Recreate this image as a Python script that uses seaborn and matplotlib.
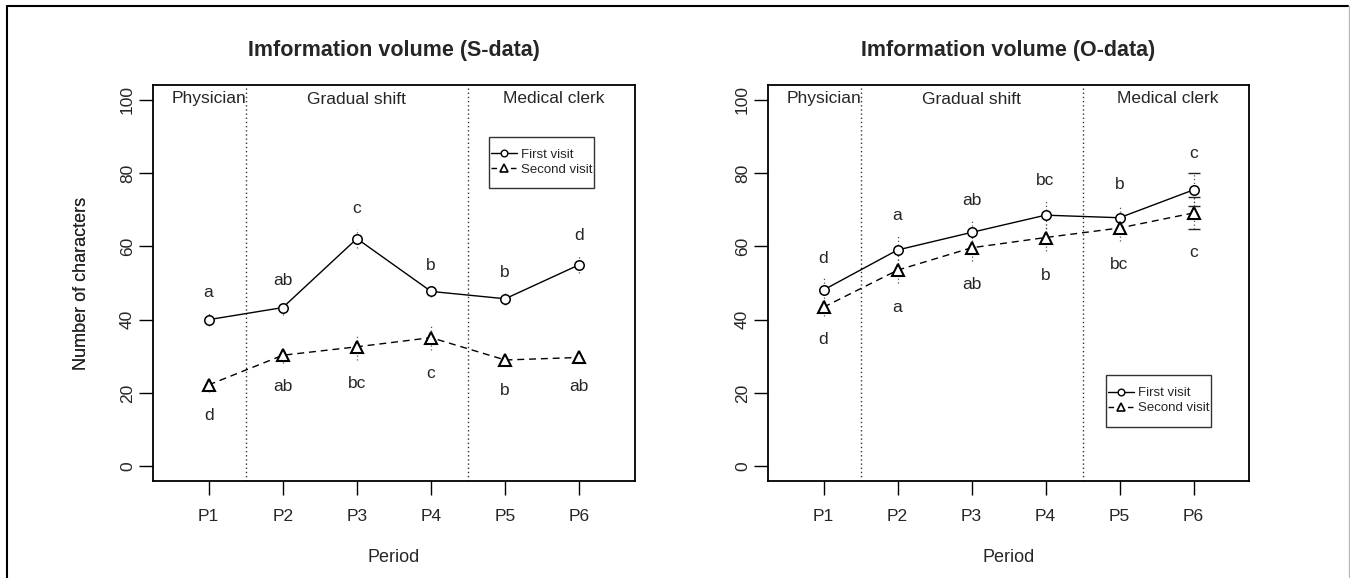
import numpy as np
import pandas as pd
import matplotlib
matplotlib.use("Agg")
import matplotlib.pyplot as plt
from matplotlib.lines import Line2D
from matplotlib.patches import Rectangle
import seaborn as sns

sns.set_style("white")
plt.rcParams['font.family'] = ['Liberation Sans', 'DejaVu Sans']

# ---- data ----
periods = ["P1", "P2", "P3", "P4", "P5", "P6"]
visits = ["First visit", "Second visit"]
regions = ["Physician", "Gradual shift", "Medical clerk"]

s_first = [40.0, 43.3, 62.1, 47.7, 45.7, 55.0]
s_second = [22.2, 30.3, 32.6, 35.1, 29.0, 29.7]
s_first_se = [1.8, 2.0, 2.6, 1.6, 1.7, 2.4]
s_second_se = [1.8, 2.1, 3.5, 3.3, 1.7, 1.4]
s_first_letters = ["a", "ab", "c", "b", "b", "d"]
s_second_letters = ["d", "ab", "bc", "c", "b", "ab"]

o_first = [48.1, 59.0, 63.8, 68.5, 67.8, 75.4]
o_second = [43.4, 53.5, 59.6, 62.4, 65.0, 69.1]
o_first_se = [3.2, 3.8, 3.3, 3.9, 3.5, 4.5]
o_second_se = [2.3, 3.6, 3.5, 3.8, 3.5, 4.3]
o_first_letters = ["d", "a", "ab", "bc", "b", "c"]
o_second_letters = ["d", "a", "ab", "b", "bc", "c"]

titles = ["Imformation volume (S-data)", "Imformation volume (O-data)"]
yticks = [0, 20, 40, 60, 80, 100]

W, H = 1350, 578
fig = plt.figure(figsize=(W / 100, H / 100), dpi=100)

# figure border (left, top, right)
fig.add_artist(Line2D([7 / W, 7 / W], [0, 1 - 6 / H], color="black", lw=1.5, transform=fig.transFigure))
fig.add_artist(Line2D([7 / W, 1348 / W], [1 - 6 / H, 1 - 6 / H], color="black", lw=1.5, transform=fig.transFigure))
fig.add_artist(Line2D([1348.5 / W, 1348.5 / W], [0, 1 - 6 / H], color="#bbbbbb", lw=1.0, transform=fig.transFigure))

rects = [
    [153 / W, (H - 481) / H, 482 / W, 396 / H],
    [768 / W, (H - 481) / H, 481 / W, 396 / H],
]
# legend boxes in axes fraction: (x0, y0, x1, y1)
legend_boxes = [(0.697, 0.740, 0.915, 0.869), (0.702, 0.137, 0.922, 0.268)]

panels = [
    (s_first, s_second, s_first_se, s_second_se, s_first_letters, s_second_letters),
    (o_first, o_second, o_first_se, o_second_se, o_first_letters, o_second_letters),
]

pad_above = 5.5
pad_below = 6.5
FS = 12.5

for i, (f, s, fse, sse, fl, sl) in enumerate(panels):
    ax = fig.add_axes(rects[i])
    x = np.arange(1, len(periods) + 1)
    df = pd.DataFrame({
        "x": np.concatenate([x, x]),
        "value": np.concatenate([f, s]),
        "se": np.concatenate([fse, sse]),
        "visit": [visits[0]] * len(x) + [visits[1]] * len(x),
    })
    d1 = df[df.visit == visits[0]]
    d2 = df[df.visit == visits[1]]

    # error bars (dotted), caps only for large SE
    for d in (d1, d2):
        eb = ax.errorbar(d.x, d.value, yerr=d.se, fmt="none", ecolor="#555555",
                         elinewidth=0.9, capsize=0, zorder=1)
        for c in eb[2]:
            c.set_linestyle((0, (1, 2)))
        big = d[d.se > 4.0]
        if len(big):
            ax.errorbar(big.x, big.value, yerr=big.se, fmt="none", ecolor="#222222",
                        elinewidth=0.0, capsize=4, capthick=1.0, zorder=1)

    sns.lineplot(data=d1, x="x", y="value", ax=ax, color="black", lw=1.0,
                 marker="o", markersize=6.8, markerfacecolor="white",
                 markeredgecolor="black", markeredgewidth=1.1, zorder=3,
                 errorbar=None, legend=False)
    sns.lineplot(data=d2, x="x", y="value", ax=ax, color="black", lw=1.0,
                 linestyle=(0, (5, 3.5)), marker="^", markersize=8.8,
                 markerfacecolor="white", markeredgecolor="black",
                 markeredgewidth=1.5, zorder=3, errorbar=None, legend=False)

    # significance letters
    for xi, v, e, t in zip(x, f, fse, fl):
        ax.text(xi, v + e + pad_above, t, ha="center", va="center", fontsize=FS)
    for xi, v, e, t in zip(x, s, sse, sl):
        ax.text(xi, v - e - pad_below, t, ha="center", va="center", fontsize=FS)

    # region separators and labels
    for xv in (1.5, 4.5):
        ax.axvline(xv, color="#333333", lw=1.0, linestyle=(0, (1, 2)), zorder=0)
    ax.text(1.0, 100.4, regions[0], ha="center", va="center", fontsize=FS)
    ax.text(3.0, 100.0, regions[1], ha="center", va="center", fontsize=FS)
    ax.text(5.65, 100.4, regions[2], ha="center", va="center", fontsize=FS)

    ax.set_xlim(0.25, 6.75)
    ax.set_ylim(-4, 104)
    ax.set_xticks(x)
    ax.set_xticklabels(periods)
    ax.set_yticks(yticks)
    ax.set_yticklabels([str(t) for t in yticks], rotation=90, va="center")
    ax.tick_params(axis="both", direction="out", length=10, width=1.0,
                   color="black", labelsize=FS, left=True, bottom=True)
    ax.tick_params(axis="y", pad=3)
    ax.tick_params(axis="x", pad=10)
    for sp in ax.spines.values():
        sp.set_color("black")
        sp.set_linewidth(1.3)
    ax.set_xlabel("Period", fontsize=13)
    ax.set_ylabel("Number of characters", fontsize=13)
    ax.xaxis.label.set_va("center")
    ax.yaxis.label.set_va("center")
    ax.xaxis.set_label_coords(0.5, (481 - 557) / 396)
    ax.yaxis.set_label_coords((82 - rects[i][0] * W) / (rects[i][2] * W), 0.5)
    ax.set_title(titles[i], fontsize=15.5, fontweight="bold", pad=21)
    ax.grid(False)

    # legend: manual frame + frameless legend inside
    x0, y0, x1, y1 = legend_boxes[i]
    ax.add_patch(Rectangle((x0, y0), x1 - x0, y1 - y0, transform=ax.transAxes,
                           facecolor="white", edgecolor="#333333", lw=1.0, zorder=4))
    handles = [
        Line2D([], [], color="black", lw=1.0, marker="o", markersize=4.8,
               markerfacecolor="white", markeredgewidth=1.0),
        Line2D([], [], color="black", lw=1.0, linestyle=(0, (4, 3)), marker="^",
               markersize=5.8, markerfacecolor="white", markeredgewidth=1.2),
    ]
    leg = ax.legend(handles, visits, loc="center", bbox_to_anchor=((x0 + x1) / 2, (y0 + y1) / 2),
                    fontsize=9.5, frameon=False, handlelength=2.0, handletextpad=0.3,
                    borderpad=0.0, labelspacing=0.2)
    leg.set_zorder(5)

fig.savefig("out.png", dpi=100)
